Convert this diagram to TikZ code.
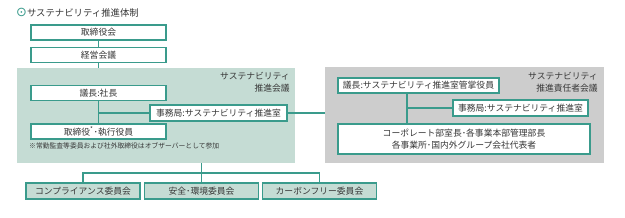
\documentclass[tikz,border=0pt]{standalone}
\usepackage{fontspec}
\setmainfont{Noto Sans CJK JP}
\newfontfamily\symfont{DejaVu Sans}
\usetikzlibrary{fit}

\definecolor{tealline}{RGB}{58,155,140}
\definecolor{greenbg}{RGB}{197,220,212}
\definecolor{graybg}{RGB}{205,205,205}
\definecolor{textgray}{RGB}{55,55,55}

\tikzset{
  box/.style={rectangle, draw=tealline, line width=1.2pt, fill=white, text=textgray, font=\fontsize{7.5}{9}\selectfont, inner sep=0pt, minimum width=4.05cm, minimum height=0.45cm},
  committee/.style={box, fill=greenbg, minimum width=3.42cm, minimum height=0.48cm},
  panel/.style={rectangle, inner sep=0pt, draw=none},
  paneltitle/.style={anchor=north east, align=right, text=textgray, font=\fontsize{7.5}{10.3}\selectfont, inner sep=0pt},
  link/.style={draw=tealline, line width=1.1pt},
}

\begin{document}
\begin{tikzpicture}[x=0.03cm, y=-0.03cm]
  \useasboundingbox (0,0) rectangle (625,217);

  \node[anchor=west, inner sep=0pt, text=textgray, font=\fontsize{8}{10}\selectfont] (title) at (16,13) {{\symfont\fontsize{11}{11}\selectfont\textcolor{tealline}{⊙}}サステナビリティ推進体制};

  \node[panel, fill=greenbg, fit={(17,68) (295,163)}] (greenpanel) {};
  \node[panel, fill=graybg, fit={(325,67) (604,163)}] (graypanel) {};
  \node[paneltitle] (greentitle) at (290,72) {サステナビリティ\\推進会議};
  \node[paneltitle] (graytitle) at (598,72) {サステナビリティ\\推進責任者会議};

  \node[box] (board) at (98.5,32.5) {取締役会};
  \node[box] (mgmt)  at (98.5,55)   {経営会議};

  \node[box] (chair)   at (98.5,93)    {議長:社長};
  \node[box, minimum width=4.11cm, minimum height=0.48cm] (secr) at (218.5,113) {事務局:サステナビリティ推進室};
  \node[box] (members) at (98.5,131.5) {取締役\textsuperscript{*}･執行役員};
  \node[anchor=west, inner sep=0pt, text=textgray, font=\fontsize{5.8}{7}\selectfont] (note) at (29,146) {※常勤監査等委員および社外取締役はオブザーバーとして参加};

  \node[box, minimum width=4.83cm] (gchair) at (418.5,85.5) {議長:サステナビリティ推進室管掌役員};
  \node[box, minimum height=0.48cm] (gsecr) at (520.5,108) {事務局:サステナビリティ推進室};
  \node[box, minimum width=7.56cm, minimum height=0.9cm, align=center, font=\fontsize{7.5}{10}\selectfont] (gmembers) at (464,139) {コーポレート部室長･各事業本部管理部長\\各事業所･国内外グループ会社代表者};

  \node[committee] (comp)   at (83,191)    {コンプライアンス委員会};
  \node[committee] (safe)   at (201.5,191) {安全･環境委員会};
  \node[committee] (carbon) at (319.5,191) {カーボンフリー委員会};

  \coordinate (trunk)  at (98.5,113);
  \coordinate (gtrunk) at (407,108);
  \coordinate (bus)    at (201.5,173);

  \draw[link] (board) -- (mgmt);
  \draw[link] (mgmt) -- (mgmt.south |- greenpanel.north);
  \draw[link] (chair) -- (members);
  \draw[link] (trunk) -- (secr.west);
  \draw[link] (secr.east) -- (secr.east -| graypanel.west);
  \draw[link] (gchair.south -| gtrunk) -- (gmembers.north -| gtrunk);
  \draw[link] (gtrunk) -- (gsecr.west);
  \draw[link] (safe.north |- greenpanel.south) -- (safe.north);
  \draw[link] (comp.north) |- (bus) -| (carbon.north);
\end{tikzpicture}
\end{document}
